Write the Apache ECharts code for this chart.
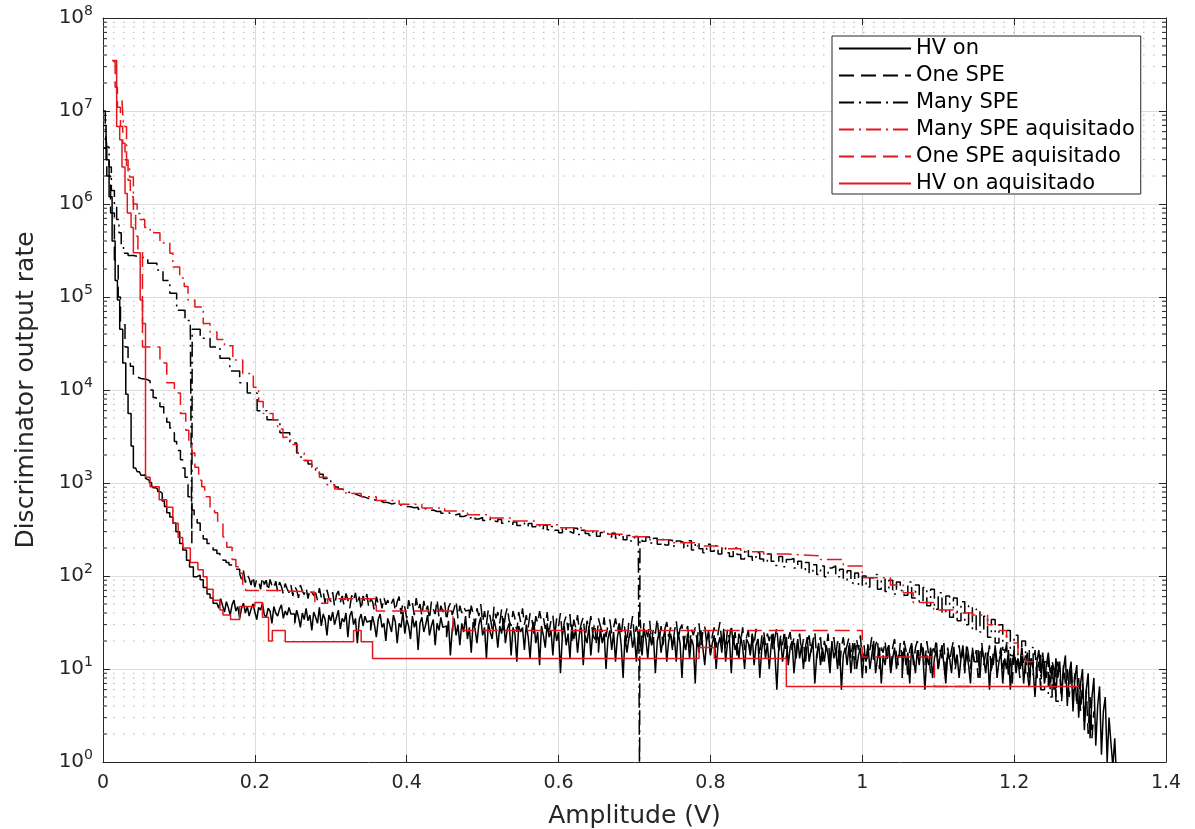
<!DOCTYPE html>
<html>
<head>
<meta charset="utf-8">
<title>Discriminator output rate vs amplitude</title>
<script src="https://cdn.jsdelivr.net/npm/echarts@6/dist/echarts.min.js"></script>
<style>
  html, body { margin: 0; padding: 0; background: #ffffff; }
  #chart { width: 1195px; height: 829px; }
</style>
</head>
<body>
<div id="chart"></div>
<script>
// ---------------------------------------------------------------------------
// Threshold scans: discriminator output rate versus amplitude (V).
// The steep low-threshold part is given as [amplitude, rate] pairs; the flat
// noisy part as rates sampled on a uniform threshold grid.
// ---------------------------------------------------------------------------

// HV on
const hvOnHead = [
  [0.000, 7.0e6], [0.004, 3.0e6], [0.008, 1.2e6], [0.012, 4.0e5], [0.016, 1.5e5],
  [0.019, 9.3e4], [0.022, 4.5e4], [0.026, 1.95e4], [0.030, 9.0e3], [0.033, 5.6e3],
  [0.037, 2.5e3], [0.040, 1450], [0.043, 1380], [0.045, 1320], [0.048, 1290],
  [0.050, 1210], [0.053, 1230], [0.056, 1120], [0.058, 1070], [0.061, 1010],
  [0.064, 940], [0.066, 890], [0.069, 860], [0.072, 810], [0.075, 776],
  [0.078, 640], [0.081, 560], [0.084, 479], [0.088, 430], [0.092, 372],
  [0.096, 300], [0.101, 224], [0.105, 190], [0.110, 148], [0.114, 125],
  [0.119, 98], [0.123, 102], [0.128, 91], [0.132, 75], [0.137, 64],
  [0.141, 58], [0.145, 51]
];
const hvOnTailStart = 0.150;
const hvOnTailStep = 0.0025;
const hvOnTail = [
  52, 45, 57, 48, 41, 53, 46, 38, 49, 55, 42, 47, 35, 45, 51, 40, 47, 37, 44, 50,
  41, 34, 46, 43, 51, 38, 36, 45, 42, 31, 47, 40, 37, 44, 49, 35, 42, 38, 46, 39,
  39, 31, 43, 36, 28, 40, 34, 45, 33, 38, 26, 41, 36, 31, 46, 29, 39, 34, 23, 38,
  33, 41, 30, 36, 43, 27, 35, 32, 40, 22, 37, 42, 30, 35, 19, 34, 39, 29, 37, 32,
  33, 26, 37, 30, 22, 34, 39, 28, 31, 20, 35, 30, 25, 38, 32, 19, 31, 28, 41, 24,
  34, 29, 21, 37, 28, 33, 16, 31, 36, 25, 30, 38, 23, 29, 34, 18, 31, 26, 36, 28,
  29, 22, 33, 14, 27, 35, 23, 30, 18, 31, 25, 37, 21, 28, 15, 32, 27, 19, 30, 36,
  23, 28, 13, 31, 25, 21, 34, 27, 17, 29, 24, 35, 19, 27, 31, 14, 28, 24, 12, 29,
  25, 28, 16, 30, 22, 13, 27, 32, 19, 25, 11, 29, 23, 17, 31, 22, 26, 14, 28, 20,
  25, 9, 23, 29, 18, 24, 13, 30, 21, 27, 15, 24, 28, 11, 23, 19, 29, 14, 24, 21,
  22, 15, 27, 19, 24, 10, 21, 26, 16, 25, 12, 22, 28, 18, 8, 23, 15, 21, 26, 17,
  22, 12, 25, 19, 14, 27, 21, 13, 24, 18, 22, 9, 20, 25, 15, 21, 26, 12, 20, 24,
  17, 22, 12, 25, 19, 8, 20, 16, 24, 13, 21, 18, 7, 23, 15, 26, 17, 11, 20, 24,
  14, 19, 23, 10, 18, 22, 15, 27, 12, 19, 21, 9, 23, 16, 19, 13, 22, 17, 10, 21,
  19, 14, 23, 11, 18, 21, 8, 16, 22, 13, 19, 10, 18, 24, 14, 6, 17, 21, 12, 18,
  22, 11, 17, 20, 9, 15, 21, 13, 18, 10, 17, 22, 12, 16, 20, 7, 14, 19, 11, 17,
  12, 18, 14, 9, 20, 13, 16, 10, 19, 6, 14, 17, 11, 18, 9, 15, 19, 10, 14, 17,
  8, 15, 12, 18, 10, 14, 20, 9, 13, 17, 7, 14, 11, 16, 18, 9, 13, 17, 10, 14,
  14, 8, 17, 11, 15, 7, 18, 13, 9, 16, 11, 19, 13, 6, 14, 11, 17, 8, 13, 16,
  10, 14, 18, 11, 7, 15, 13, 9, 17, 11, 14, 8, 13, 18, 10, 15, 11, 7, 16, 12,
  12, 16, 8, 17, 13, 9, 15, 6, 13, 11, 18, 8, 12, 15, 7, 13, 10, 16, 6, 12,
  15, 9, 13, 10, 17, 7, 12, 15, 8, 13, 10, 5, 12, 16, 9, 13, 7, 11, 15, 9,
  11, 6, 13, 8, 12, 5, 10, 14, 4, 9, 12, 3.5, 8, 11, 3, 7, 10, 2.2, 6, 9,
  1.8, 5, 8, 1.5, 4, 6.5, 1.2, 3.5, 5, 1, 3, 1.6, 0.9, 1.8, 0.6
];

// One SPE
const oneSpeHead = [
  [0.000, 4.0e6], [0.005, 2.0e6], [0.010, 8.0e5], [0.015, 2.5e5], [0.020, 1.0e5],
  [0.023, 5.2e4], [0.029, 2.9e4], [0.033, 2.2e4], [0.036, 1.8e4], [0.040, 1.38e4],
  [0.045, 1.33e4], [0.050, 1.30e4], [0.058, 1.25e4], [0.062, 1.0e4], [0.066, 8.3e3],
  [0.070, 7.4e3], [0.075, 6.6e3], [0.080, 5.5e3], [0.084, 4.5e3], [0.088, 3.9e3],
  [0.091, 3.47e3], [0.094, 2.8e3], [0.097, 2.24e3], [0.102, 1.78e3], [0.105, 1.45e3],
  [0.108, 1.15e3], [0.112, 710], [0.117, 513], [0.120, 440], [0.124, 372],
  [0.128, 288], [0.132, 250], [0.137, 224], [0.141, 205], [0.145, 190],
  [0.150, 175], [0.154, 160], [0.158, 148], [0.162, 140], [0.166, 131],
  [0.171, 126], [0.175, 118]
];
const oneSpeTailStart = 0.180;
const oneSpeTailStep = 0.0025;
const oneSpeTail = [
  106, 92, 114, 85, 103, 94, 80, 100, 76, 93, 88, 72, 97, 81, 90, 69, 92, 79, 73, 88,
  68, 86, 77, 64, 83, 73, 66, 80, 61, 77, 71, 58, 80, 69, 63, 75, 57, 72, 67, 62,
  66, 55, 74, 59, 68, 51, 71, 58, 53, 67, 47, 63, 69, 52, 61, 48, 65, 56, 45, 62,
  54, 66, 49, 60, 43, 61, 52, 64, 46, 57, 53, 42, 60, 50, 57, 45, 59, 49, 55, 47,
  51, 57, 42, 53, 60, 39, 52, 46, 35, 55, 45, 51, 38, 58, 43, 50, 37, 54, 42, 48,
  34, 53, 44, 39, 56, 36, 48, 41, 52, 33, 46, 51, 38, 45, 54, 35, 48, 40, 47, 42,
  43, 34, 48, 39, 29, 45, 37, 50, 32, 42, 30, 44, 36, 27, 47, 35, 41, 31, 44, 26,
  38, 46, 33, 29, 42, 35, 25, 41, 32, 45, 30, 38, 28, 40, 34, 24, 37, 31, 42, 33,
  36, 27, 41, 25, 33, 38, 23, 35, 29, 40, 22, 32, 37, 26, 39, 20, 34, 28, 38, 25,
  31, 36, 21, 33, 27, 37, 24, 31, 18, 35, 29, 25, 36, 22, 30, 34, 24, 28, 35, 26,
  31, 23, 35, 26, 19, 32, 27, 37, 21, 29, 24, 34, 17, 31, 26, 22, 33, 19, 28, 24,
  35, 20, 29, 18, 27, 32, 22, 28, 16, 25, 33, 21, 27, 30, 19, 25, 29, 17, 27, 23,
  28, 20, 31, 18, 25, 29, 19, 26, 15, 23, 28, 17, 24, 32, 19, 24, 16, 27, 21, 30,
  18, 25, 14, 24, 20, 28, 16, 22, 26, 15, 24, 18, 27, 21, 14, 22, 26, 18, 24, 20,
  25, 16, 22, 28, 15, 23, 18, 26, 13, 21, 25, 16, 22, 12, 19, 24, 15, 21, 11, 19,
  23, 15, 20, 25, 13, 19, 22, 12, 20, 16, 24, 11, 19, 22, 14, 20, 10, 17, 22, 15,
  18, 22, 13, 19, 10, 21, 16, 23, 12, 18, 9, 19, 16, 22, 12, 18, 21, 10, 17, 15,
  20, 12, 18, 9, 17, 21, 14, 11, 19, 13, 20, 16, 8, 16, 19, 11, 17, 20, 12, 16,
  17, 11, 20, 14, 9, 18, 15, 21, 10, 16, 13, 19, 8, 17, 12, 16, 20, 10, 15, 18,
  12, 16, 9, 19, 14, 10, 17, 12, 16, 8, 15, 19, 11, 15, 13, 18, 9, 15, 17, 12,
  13, 17, 10, 15, 18, 8, 14, 7, 16, 11, 13, 8, 17, 11, 14, 9, 6, 13, 11, 16,
  8, 12, 6, 15, 10, 8, 13, 6, 12, 10, 5, 12, 9, 4.5, 11, 7, 10, 5, 11, 5,
  9, 4, 8, 3.5, 7, 2.5, 6, 2, 5, 1.8, 3.5
];

// Many SPE
const manySpeHead = [
  [0.000, 1.0e7], [0.003, 6.5e6], [0.005, 4.1e6], [0.008, 2.5e6], [0.011, 1.4e6],
  [0.015, 9.3e5], [0.018, 6.8e5], [0.021, 4.9e5], [0.024, 3.5e5], [0.027, 2.95e5],
  [0.033, 2.8e5], [0.040, 2.7e5], [0.049, 2.6e5], [0.059, 2.3e5], [0.071, 1.95e5],
  [0.079, 1.5e5], [0.088, 1.1e5], [0.097, 7.2e4], [0.108, 5.6e4], [0.115, 4.8e4],
  [0.128, 3.6e4], [0.141, 2.9e4], [0.154, 2.2e4], [0.167, 1.6e4], [0.180, 1.2e4],
  [0.190, 9.3e3], [0.203, 6.0e3], [0.216, 4.8e3], [0.233, 3.47e3], [0.246, 2.7e3],
  [0.255, 2.1e3]
];
// single-sample dropouts in the Many SPE scan
const manySpeDropouts = [
  [0.1165, 4.6e4], [0.1170, 225], [0.1175, 4.5e4],
  [0.7062, 252], [0.7067, 0.5], [0.7072, 250]
];
const manySpeTailStart = 0.260;
const manySpeTailStep = 0.005;
const manySpeTail = [
  1900, 1750, 1600, 1480, 1350, 1240, 1120, 1060, 960, 905, 860, 820, 790, 770, 745, 720, 705, 680, 665, 650,
  640, 622, 618, 596, 604, 578, 580, 559, 556, 541, 548, 521, 530, 505, 512, 493, 497, 472, 480, 461,
  455, 466, 436, 450, 424, 440, 410, 426, 396, 414, 392, 383, 406, 370, 388, 360, 381, 350, 372, 344,
  366, 338, 358, 322, 352, 314, 340, 310, 292, 332, 300, 288, 326, 280, 310, 286, 272, 309, 268, 294,
  292, 262, 288, 254, 280, 246, 272, 238, 266, 244, 236, 262, 226, 254, 220, 247, 216, 243, 210, 238,
  230, 200, 240, 190, 226, 196, 178, 220, 184, 212, 172, 206, 178, 162, 200, 170, 152, 192, 162, 148,
  178, 152, 140, 172, 144, 130, 162, 126, 150, 154, 122, 144, 116, 140, 108, 132, 104, 128, 98, 122,
  128, 98, 118, 90, 114, 84, 108, 78, 100, 76, 96, 104, 72, 93, 68, 90, 64, 86, 70, 62,
  86, 58, 80, 52, 75, 48, 72, 44, 66, 40, 61, 36, 58, 33, 53, 30, 48, 26, 44, 25,
  37, 22, 34, 19, 30, 16, 26, 14, 23, 11, 20, 9, 17, 8, 14, 6, 12, 5, 10, 4.5,
  4
];

// Acquired scans: coarse staircase, each pair = [step start amplitude, rate]
const manySpeAcq = [
  [0.025, 1.3e7], [0.027, 6.8e6], [0.031, 2.5e6], [0.035, 1.95e6], [0.040, 1.0e6],
  [0.045, 7.9e5], [0.049, 6.8e5], [0.055, 5.6e5], [0.062, 4.9e5], [0.075, 3.8e5],
  [0.088, 2.95e5], [0.092, 2.1e5], [0.101, 1.6e5], [0.107, 1.3e5], [0.112, 9.3e4],
  [0.121, 7.8e4], [0.132, 5.2e4], [0.141, 4.2e4], [0.150, 3.5e4], [0.160, 3.0e4],
  [0.171, 2.1e4], [0.184, 1.5e4], [0.198, 1.07e4], [0.205, 7.5e3], [0.211, 5.6e3],
  [0.224, 4.8e3], [0.230, 3.8e3], [0.237, 3.1e3], [0.247, 2.6e3], [0.256, 2.1e3],
  [0.265, 1.75e3], [0.275, 1.45e3], [0.285, 1.15e3], [0.295, 960], [0.305, 860],
  [0.320, 770], [0.340, 710], [0.360, 650], [0.390, 590], [0.420, 540],
  [0.450, 500], [0.480, 455], [0.510, 420], [0.540, 390], [0.570, 355],
  [0.600, 330], [0.630, 305], [0.660, 282], [0.690, 265], [0.720, 245],
  [0.750, 228], [0.780, 210], [0.810, 196], [0.840, 182], [0.870, 172],
  [0.900, 165], [0.945, 150], [0.975, 128], [1.000, 96], [1.037, 80],
  [1.054, 66], [1.067, 52], [1.094, 43], [1.120, 40], [1.145, 38],
  [1.165, 30], [1.180, 26], [1.190, 19], [1.205, 14], [1.215, 12], [1.225, 12]
];
const oneSpeAcq = [
  [0.013, 3.4e7], [0.016, 1.8e7], [0.019, 1.1e7], [0.023, 6.8e6], [0.026, 4.5e6],
  [0.029, 3.0e6], [0.033, 1.8e6], [0.036, 1.2e6], [0.040, 8.0e5], [0.043, 4.5e5],
  [0.046, 3.0e5], [0.052, 2.9e4], [0.075, 1.95e4], [0.084, 1.2e4], [0.094, 9.3e3],
  [0.102, 5.6e3], [0.109, 3.7e3], [0.113, 2.7e3], [0.117, 2.1e3], [0.121, 1.48e3],
  [0.126, 1.07e3], [0.130, 910], [0.134, 710], [0.141, 510], [0.147, 480],
  [0.151, 370], [0.158, 263], [0.163, 204], [0.170, 150], [0.175, 126],
  [0.179, 107], [0.184, 79], [0.188, 70], [0.230, 67], [0.279, 51],
  [0.296, 57], [0.360, 42], [0.461, 26], [1.000, 13.5], [1.095, 6.5], [1.150, 6.5]
];
const hvOnAcq = [
  [0.012, 3.5e7], [0.018, 6.8e6], [0.022, 4.9e6], [0.025, 2.5e6], [0.029, 1.3e6],
  [0.032, 8.0e5], [0.037, 5.6e5], [0.040, 3.0e5], [0.049, 9.3e4], [0.052, 5.2e4],
  [0.056, 1150], [0.062, 910], [0.074, 660], [0.084, 550], [0.092, 370],
  [0.099, 260], [0.105, 200], [0.115, 140], [0.125, 117], [0.132, 98],
  [0.137, 72], [0.145, 55], [0.154, 43], [0.158, 38], [0.168, 34],
  [0.180, 47], [0.200, 52], [0.210, 36], [0.218, 20], [0.223, 26],
  [0.240, 19.6], [0.330, 26], [0.340, 19.6], [0.355, 13], [0.785, 17],
  [0.805, 13], [0.900, 6.5], [1.285, 6.5]
];

// Axis definition
const xTicks = [0, 0.2, 0.4, 0.6, 0.8, 1.0, 1.2, 1.4];
const decades = [1, 10, 100, 1e3, 1e4, 1e5, 1e6, 1e7, 1e8];
const minorMultipliers = [2, 3, 4, 5, 6, 7, 8, 9];

const seriesNames = [
  'HV on', 'One SPE', 'Many SPE',
  'Many SPE aquisitado', 'One SPE aquisitado', 'HV on aquisitado'
];

// ---------------------------------------------------------------------------
function gridScan(start, step, rates) {
  return rates.map((r, i) => [+(start + i * step).toFixed(5), r]);
}
function joinByAmplitude(...parts) {
  return [].concat(...parts).sort((a, b) => a[0] - b[0]);
}

const hvOnData = joinByAmplitude(hvOnHead, gridScan(hvOnTailStart, hvOnTailStep, hvOnTail));
const oneSpeData = joinByAmplitude(oneSpeHead, gridScan(oneSpeTailStart, oneSpeTailStep, oneSpeTail));
const manySpeData = joinByAmplitude(manySpeHead, manySpeDropouts,
  gridScan(manySpeTailStart, manySpeTailStep, manySpeTail));

const minorValues = [];
decades.slice(0, -1).forEach(d => minorMultipliers.forEach(m => minorValues.push(d * m)));

const FONT = 'DejaVu Sans';
const AXIS_COLOR = '#262626';
const RED = '#e3171c';
const BLACK = '#000000';
const DASH = [15, 7];
const DASH_DOT = [15, 5, 2, 5];
const xMin = xTicks[0], xMax = xTicks[xTicks.length - 1];

function scanLine(name, data, color, dash) {
  return {
    type: 'line', name, data,
    symbol: 'none', showSymbol: false, step: 'end',
    clip: true, smooth: false, sampling: null, z: 3,
    lineStyle: { color, width: 1.5, type: dash },
    itemStyle: { color },
    emphasis: { disabled: true },
    animation: false
  };
}

const chart = echarts.init(document.getElementById('chart'), null, { renderer: 'canvas' });

const option = {
  animation: false,
  backgroundColor: '#ffffff',
  textStyle: { fontFamily: FONT },
  grid: { left: 103, right: 29, top: 18, bottom: 67, containLabel: false, outerBoundsMode: 'none' },
  legend: {
    data: seriesNames,
    orient: 'vertical',
    left: 832, top: 36,
    itemWidth: 72, itemHeight: 14, itemGap: 6,
    padding: [2, 6, 0, 6],
    backgroundColor: '#ffffff',
    borderColor: AXIS_COLOR, borderWidth: 1, borderRadius: 0,
    selectedMode: false,
    itemStyle: { opacity: 0, borderWidth: 0 },
    textStyle: { fontFamily: FONT, fontSize: 21, color: '#000', lineHeight: 21 }
  },
  xAxis: [
    {
      type: 'value', min: xMin, max: xMax, interval: 0.2, position: 'bottom',
      name: 'Amplitude (V)', nameLocation: 'middle', nameGap: 42,
      nameTextStyle: { fontSize: 25, color: AXIS_COLOR, fontFamily: FONT },
      axisLine: { show: true, onZero: false, lineStyle: { color: AXIS_COLOR, width: 1 } },
      axisTick: { show: true, inside: true, length: 7, lineStyle: { color: AXIS_COLOR } },
      axisLabel: { fontSize: 19, color: AXIS_COLOR, margin: 12, fontFamily: FONT },
      splitLine: { show: true, lineStyle: { color: '#dcdcdc', width: 1 } }
    },
    {
      type: 'value', min: xMin, max: xMax, interval: 0.2, position: 'top',
      axisLine: { show: true, onZero: false, lineStyle: { color: AXIS_COLOR, width: 1 } },
      axisTick: { show: true, inside: true, length: 7, lineStyle: { color: AXIS_COLOR } },
      axisLabel: { show: false }, splitLine: { show: false }
    }
  ],
  yAxis: [
    {
      type: 'log', logBase: 10, min: decades[0], max: decades[decades.length - 1], splitNumber: 8,
      name: 'Discriminator output rate', nameLocation: 'middle', nameGap: 64,
      nameTextStyle: { fontSize: 25, color: AXIS_COLOR, fontFamily: FONT },
      axisLine: { show: true, onZero: false, lineStyle: { color: AXIS_COLOR, width: 1 } },
      axisTick: { show: true, inside: true, length: 7, lineStyle: { color: AXIS_COLOR } },
      axisLabel: {
        margin: 10, color: AXIS_COLOR,
        formatter: v => '{b|10}{s|' + Math.round(Math.log10(v)) + '}',
        rich: {
          b: { fontSize: 20, color: AXIS_COLOR, fontFamily: FONT },
          s: { fontSize: 14, color: AXIS_COLOR, fontFamily: FONT, padding: [0, 0, 13, 0] }
        }
      },
      splitLine: { show: true, lineStyle: { color: '#dcdcdc', width: 1 } }
    },
    {
      type: 'log', logBase: 10, min: decades[0], max: decades[decades.length - 1], splitNumber: 8,
      position: 'right',
      axisLine: { show: true, onZero: false, lineStyle: { color: AXIS_COLOR, width: 1 } },
      axisTick: { show: true, inside: true, length: 7, lineStyle: { color: AXIS_COLOR } },
      axisLabel: { show: false }, splitLine: { show: false }
    }
  ],
  series: [
    {
      // minor log gridlines (dotted) with inner minor ticks on both y axes
      type: 'custom', name: 'minor grid', silent: true, z: 1,
      data: minorValues.map(v => [xMin, v]),
      encode: { x: 0, y: 1 },
      renderItem: (params, api) => {
        const v = api.value(1);
        const a = api.coord([xMin, v]);
        const b = api.coord([xMax, v]);
        return {
          type: 'group',
          children: [
            { type: 'line', shape: { x1: a[0], y1: a[1], x2: b[0], y2: b[1] },
              style: { stroke: '#b4b4b4', lineWidth: 1, lineDash: [1.5, 8.5] } },
            { type: 'line', shape: { x1: a[0], y1: a[1], x2: a[0] + 4, y2: a[1] },
              style: { stroke: AXIS_COLOR, lineWidth: 1 } },
            { type: 'line', shape: { x1: b[0] - 4, y1: b[1], x2: b[0], y2: b[1] },
              style: { stroke: AXIS_COLOR, lineWidth: 1 } }
          ]
        };
      }
    },
    scanLine(seriesNames[0], hvOnData, BLACK, 'solid'),
    scanLine(seriesNames[1], oneSpeData, BLACK, DASH),
    scanLine(seriesNames[2], manySpeData, BLACK, DASH_DOT),
    scanLine(seriesNames[3], manySpeAcq, RED, DASH_DOT),
    scanLine(seriesNames[4], oneSpeAcq, RED, DASH),
    scanLine(seriesNames[5], hvOnAcq, RED, 'solid')
  ]
};

chart.setOption(option);
</script>
</body>
</html>
